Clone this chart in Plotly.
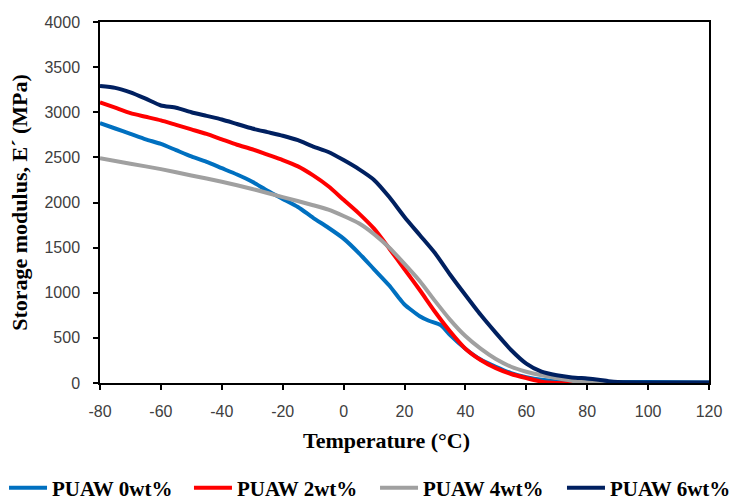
import plotly.graph_objects as go

# Temperature grid (°C) and storage modulus values (MPa)
t_0wt = [-80, -75, -70, -65, -60, -55, -50, -45, -40, -35, -30, -25, -20, -15, -10, -5, 0, 5, 10, 15, 18, 20, 25, 28, 32, 35, 40, 45, 50, 55, 60, 65, 70, 80, 90, 100, 120]
e_0wt = [2880, 2820, 2760, 2700, 2650, 2580, 2510, 2450, 2380, 2310, 2230, 2130, 2040, 1950, 1830, 1720, 1600, 1440, 1260, 1080, 950, 870, 740, 690, 640, 530, 380, 260, 180, 110, 65, 35, 20, 12, 12, 10, 5]

t_2wt = [-80, -75, -70, -65, -60, -55, -50, -45, -40, -35, -30, -25, -20, -15, -10, -5, 0, 5, 10, 15, 20, 25, 30, 35, 40, 45, 50, 55, 60, 65, 70, 120]
e_2wt = [3110, 3050, 2990, 2950, 2910, 2860, 2810, 2760, 2700, 2640, 2590, 2530, 2470, 2400, 2300, 2180, 2030, 1880, 1710, 1490, 1260, 1030, 790, 570, 380, 255, 165, 100, 55, 15, 0, 0]

t_4wt = [-80, -70, -60, -50, -40, -30, -20, -10, -5, 0, 5, 10, 15, 20, 25, 30, 35, 40, 45, 50, 55, 60, 65, 70, 75, 80, 120]
e_4wt = [2490, 2430, 2370, 2300, 2230, 2150, 2060, 1970, 1920, 1850, 1770, 1650, 1500, 1320, 1130, 910, 700, 520, 380, 265, 180, 125, 85, 55, 25, 8, 0]

t_6wt = [-80, -75, -70, -65, -60, -55, -50, -45, -40, -35, -30, -25, -20, -15, -10, -5, 0, 5, 10, 15, 20, 25, 30, 35, 40, 45, 50, 55, 60, 65, 70, 75, 80, 83, 87, 90, 100, 120]
e_6wt = [3290, 3270, 3220, 3150, 3075, 3050, 3000, 2960, 2920, 2870, 2820, 2780, 2740, 2690, 2620, 2560, 2470, 2370, 2250, 2060, 1840, 1640, 1440, 1200, 975, 755, 555, 366, 215, 125, 85, 62, 50, 40, 20, 10, 6, 5]

series = [
    ("PUAW 0wt%", t_0wt, e_0wt, "#0070C0"),
    ("PUAW 2wt%", t_2wt, e_2wt, "#FF0000"),
    ("PUAW 4wt%", t_4wt, e_4wt, "#A0A0A0"),
    ("PUAW 6wt%", t_6wt, e_6wt, "#002060"),
]

x_ticks = [-80, -60, -40, -20, 0, 20, 40, 60, 80, 100, 120]
y_ticks = [0, 500, 1000, 1500, 2000, 2500, 3000, 3500, 4000]

serif = "Liberation Serif"
tickfont = dict(family="Liberation Sans", size=16, color="#404040")

# one legend per entry so the row spacing can match the reference
legend_ids = ["legend", "legend2", "legend3", "legend4"]
legend_x = [-0.1576, 0.1461, 0.4516, 0.7586]

fig = go.Figure()
for (name, t, e, color), lid in zip(series, legend_ids):
    fig.add_trace(go.Scatter(x=t, y=e, name="<b>" + name + "</b>", mode="lines", legend=lid,
                             line=dict(color=color, width=4, shape="spline", smoothing=0.6)))

legend_layout = {}
for lid, lx in zip(legend_ids, legend_x):
    legend_layout[lid] = dict(orientation="h", xref="paper", yref="paper",
                              x=lx, xanchor="left", y=-0.291, yanchor="middle",
                              font=dict(family=serif, size=21, color="black"),
                              itemwidth=38, bgcolor="rgba(0,0,0,0)")

fig.update_layout(
    width=729, height=499,
    margin=dict(l=100, r=20, t=22, b=116, autoexpand=False),
    plot_bgcolor="white", paper_bgcolor="white",
    showlegend=True,
    **legend_layout,
    xaxis=dict(range=[-80, 120], tickvals=x_ticks, ticktext=[str(v) for v in x_ticks],
               showline=True, linecolor="#000000", linewidth=1.5, mirror=True,
               ticks="outside", ticklen=5, tickcolor="#000000", tickwidth=1.5,
               showgrid=False, zeroline=False, tickfont=tickfont, ticklabelstandoff=8,
               automargin=False),
    yaxis=dict(range=[0, 4000], tickvals=y_ticks, ticktext=[str(v) for v in y_ticks],
               showline=True, linecolor="#000000", linewidth=1.5, mirror=True,
               ticks="outside", ticklen=5, tickcolor="#000000", tickwidth=1.5,
               showgrid=False, zeroline=False, tickfont=tickfont, ticklabelstandoff=10,
               automargin=False,
               title=dict(text="<b>Storage modulus, E´ (MPa)</b>", font=dict(family=serif, size=22, color="black"),
                          standoff=11)),
    annotations=[dict(text="<b>Temperature (°C)</b>", xref="paper", yref="paper",
                      x=0.471, y=-0.160, xanchor="center", yanchor="middle", showarrow=False,
                      font=dict(family=serif, size=22, color="black"))],
)

fig.write_html("out.html", config={"displayModeBar": False},
               post_script="document.body.style.margin='0';document.body.style.overflow='hidden';")
